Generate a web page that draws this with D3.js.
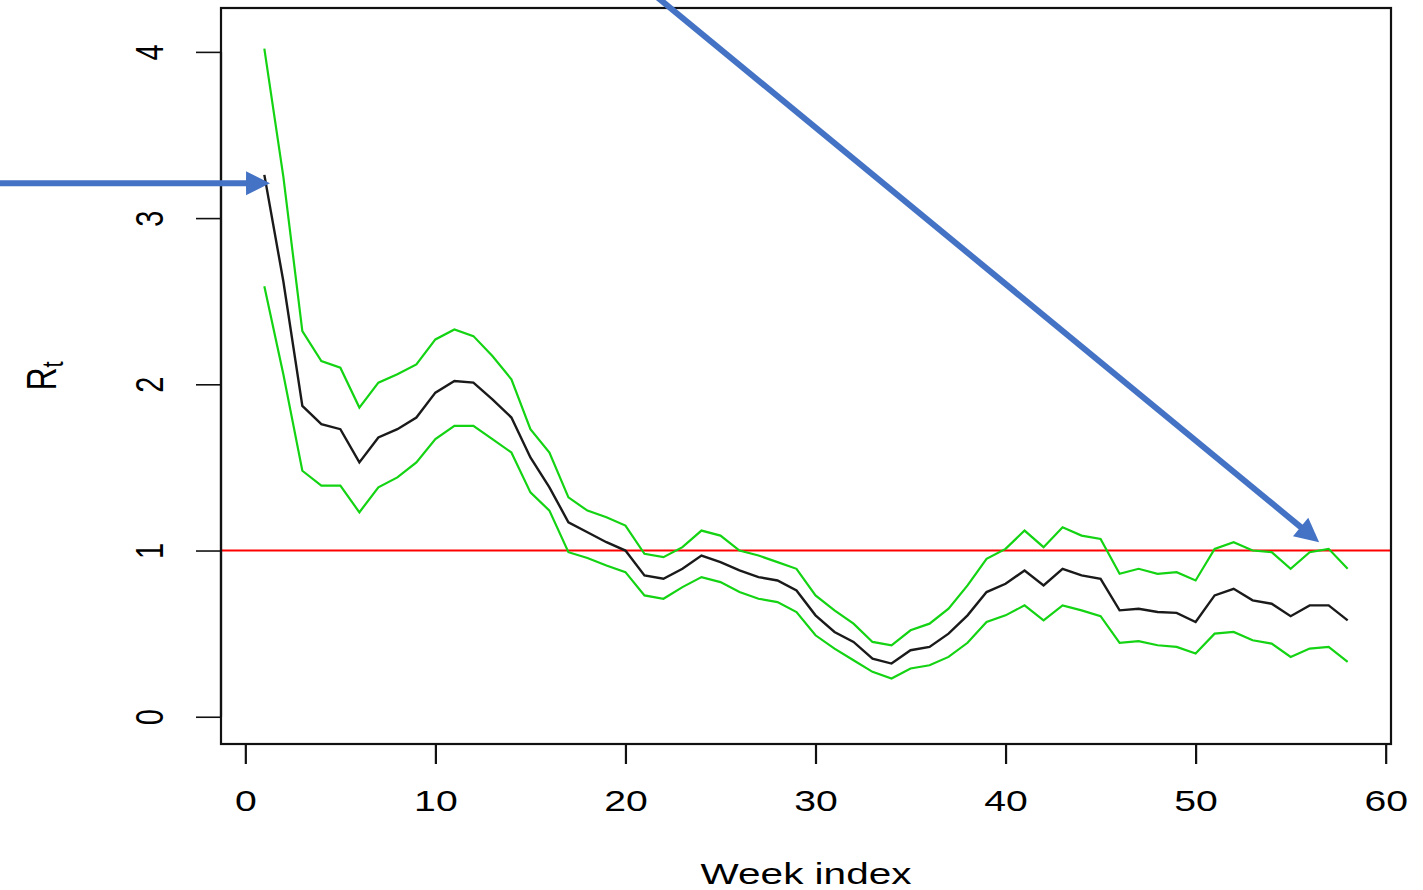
<!DOCTYPE html>
<html>
<head>
<meta charset="utf-8">
<script src="https://cdn.jsdelivr.net/npm/d3@7"></script>
<style>
  html, body { margin: 0; padding: 0; background: #ffffff; }
  svg { display: block; }
  text { font-family: "Liberation Sans", Arial, Helvetica, sans-serif; fill: #000; }
</style>
</head>
<body>
<svg id="chart" width="1423" height="890"></svg>
<script>
// ---------------- data ----------------
const weeks = d3.range(1, 59); // week index 1..58

const rtMean = [3.26, 2.62, 1.87, 1.76, 1.73, 1.53, 1.68, 1.73, 1.80, 1.95,
                2.02, 2.01, 1.91, 1.80, 1.56, 1.38, 1.17, 1.11, 1.05, 1.00,
                0.85, 0.83, 0.89, 0.97, 0.93, 0.88, 0.84, 0.82, 0.76, 0.61,
                0.51, 0.45, 0.35, 0.32, 0.40, 0.42, 0.50, 0.61, 0.75, 0.80,
                0.88, 0.79, 0.89, 0.85, 0.83, 0.64, 0.65, 0.63, 0.625, 0.57,
                0.73, 0.77, 0.70, 0.68, 0.605, 0.67, 0.67, 0.58];

const rtUpper = [4.02, 3.25, 2.32, 2.14, 2.10, 1.86, 2.01, 2.06, 2.12, 2.27,
                 2.33, 2.29, 2.17, 2.03, 1.73, 1.59, 1.32, 1.24, 1.20, 1.15,
                 0.98, 0.96, 1.02, 1.12, 1.09, 1.00, 0.97, 0.93, 0.89, 0.73,
                 0.64, 0.56, 0.45, 0.43, 0.52, 0.56, 0.65, 0.79, 0.95, 1.01,
                 1.12, 1.02, 1.14, 1.09, 1.07, 0.86, 0.89, 0.86, 0.87, 0.82,
                 1.01, 1.05, 1.00, 0.99, 0.89, 0.99, 1.01, 0.89];

const rtLower = [2.59, 2.06, 1.48, 1.39, 1.39, 1.23, 1.38, 1.44, 1.53, 1.67,
                 1.75, 1.75, 1.67, 1.59, 1.35, 1.24, 0.99, 0.955, 0.91, 0.87,
                 0.73, 0.71, 0.78, 0.84, 0.81, 0.75, 0.71, 0.69, 0.63, 0.49,
                 0.41, 0.34, 0.27, 0.23, 0.29, 0.31, 0.36, 0.445, 0.57, 0.61,
                 0.67, 0.58, 0.67, 0.64, 0.605, 0.445, 0.455, 0.43, 0.42, 0.38,
                 0.50, 0.51, 0.46, 0.44, 0.36, 0.41, 0.42, 0.33];

const xTicks = [0, 10, 20, 30, 40, 50, 60];
const yTicks = [0, 1, 2, 3, 4];
const referenceLevel = 1;
const xLabel = "Week index";
const yLabelMain = "R";
const yLabelSub = "t";

// annotation arrows, in data coordinates [week, Rt]
const arrowFrom = [[-13.2, 3.21], [21.45, 4.35]];
const arrowTo   = [[1.3, 3.21], [56.5, 1.05]];

// ---------------- layout ----------------
const svg = d3.select("#chart");
const box = { left: 221, right: 1391, top: 8, bottom: 744 };
const stretch = 1.35;   // horizontal stretch of the reference's text

const x = d3.scaleLinear().domain([1 - 0.04 * 57, 58 + 0.04 * 57]).range([box.left, box.right]);
const y = d3.scaleLinear().domain([-0.164, 4.264]).range([box.bottom, box.top]);

// plot region clip
svg.append("defs").append("clipPath").attr("id", "plotclip")
  .append("rect").attr("x", box.left).attr("y", box.top)
  .attr("width", box.right - box.left).attr("height", box.bottom - box.top);

const plot = svg.append("g").attr("clip-path", "url(#plotclip)");

// reference line at Rt = 1
plot.append("line")
  .attr("x1", box.left).attr("x2", box.right)
  .attr("y1", y(referenceLevel)).attr("y2", y(referenceLevel))
  .attr("stroke", "#ff0000").attr("stroke-width", 2);

const line = vals => d3.line().x((d, i) => x(weeks[i])).y(d => y(d))(vals);

plot.append("path").attr("d", line(rtUpper))
  .attr("fill", "none").attr("stroke", "#13d313").attr("stroke-width", 2.2);
plot.append("path").attr("d", line(rtLower))
  .attr("fill", "none").attr("stroke", "#13d313").attr("stroke-width", 2.2);
plot.append("path").attr("d", line(rtMean))
  .attr("fill", "none").attr("stroke", "#1a1a1a").attr("stroke-width", 2.4);

// box
svg.append("rect")
  .attr("x", box.left).attr("y", box.top)
  .attr("width", box.right - box.left).attr("height", box.bottom - box.top)
  .attr("fill", "none").attr("stroke", "#111").attr("stroke-width", 2.2);

// x axis
const xAxis = d3.axisBottom(x).tickValues(xTicks).tickSize(20).tickFormat(d3.format("d"));
const gx = svg.append("g").attr("transform", `translate(0,${box.bottom})`).call(xAxis);
gx.select(".domain").attr("stroke", "#111").attr("stroke-width", 2.2)
  .attr("d", `M${x(xTicks[0])},0H${x(xTicks[xTicks.length - 1])}`);
gx.selectAll(".tick line").attr("stroke", "#111").attr("stroke-width", 2.2);
gx.selectAll(".tick text").remove();
gx.selectAll(".tick").append("text")
  .attr("transform", `translate(0,66.5) scale(${stretch},1)`)
  .attr("text-anchor", "middle")
  .style("font-size", "29px")
  .text(d => d);

// y axis
const yAxis = d3.axisLeft(y).tickValues(yTicks).tickSize(25);
const gy = svg.append("g").attr("transform", `translate(${box.left},0)`).call(yAxis);
gy.select(".domain").attr("stroke", "#111").attr("stroke-width", 2.2)
  .attr("d", `M0,${y(yTicks[0])}V${y(yTicks[yTicks.length - 1])}`);
gy.selectAll(".tick line").attr("stroke", "#111").attr("stroke-width", 1.6);
gy.selectAll(".tick text").remove();
gy.selectAll(".tick").append("text")
  .attr("transform", `translate(${163 - box.left},0) scale(${stretch},1) rotate(-90)`)
  .attr("text-anchor", "middle")
  .style("font-size", "29px")
  .text(d => d);

// axis titles
svg.append("text")
  .attr("transform", `translate(${(box.left + box.right) / 2},884) scale(${stretch},1)`)
  .attr("text-anchor", "middle")
  .style("font-size", "30px")
  .text(xLabel);

const yt = svg.append("text")
  .attr("transform", `translate(56,${(box.top + box.bottom) / 2}) scale(${stretch},1) rotate(-90)`)
  .attr("text-anchor", "middle")
  .style("font-size", "32px");
yt.append("tspan").text(yLabelMain);
yt.append("tspan").attr("dy", 5).style("font-size", "22px").text(yLabelSub);

// annotation arrows
const arrowColor = "#4472c4";
arrowFrom.forEach((from, i) => {
  const to = arrowTo[i];
  const x1 = x(from[0]), y1 = y(from[1]), x2 = x(to[0]), y2 = y(to[1]);
  const ang = Math.atan2(y2 - y1, x2 - x1);
  const headLen = 24, headHalf = 12;
  const bx = x2 - headLen * Math.cos(ang), by = y2 - headLen * Math.sin(ang);
  svg.append("line")
    .attr("x1", x1).attr("y1", y1).attr("x2", bx + Math.cos(ang)).attr("y2", by + Math.sin(ang))
    .attr("stroke", arrowColor).attr("stroke-width", 6);
  const px = -Math.sin(ang), py = Math.cos(ang);
  svg.append("polygon")
    .attr("points", [[x2, y2], [bx + px * headHalf, by + py * headHalf], [bx - px * headHalf, by - py * headHalf]]
      .map(p => p.join(",")).join(" "))
    .attr("fill", arrowColor);
});
</script>
</body>
</html>
